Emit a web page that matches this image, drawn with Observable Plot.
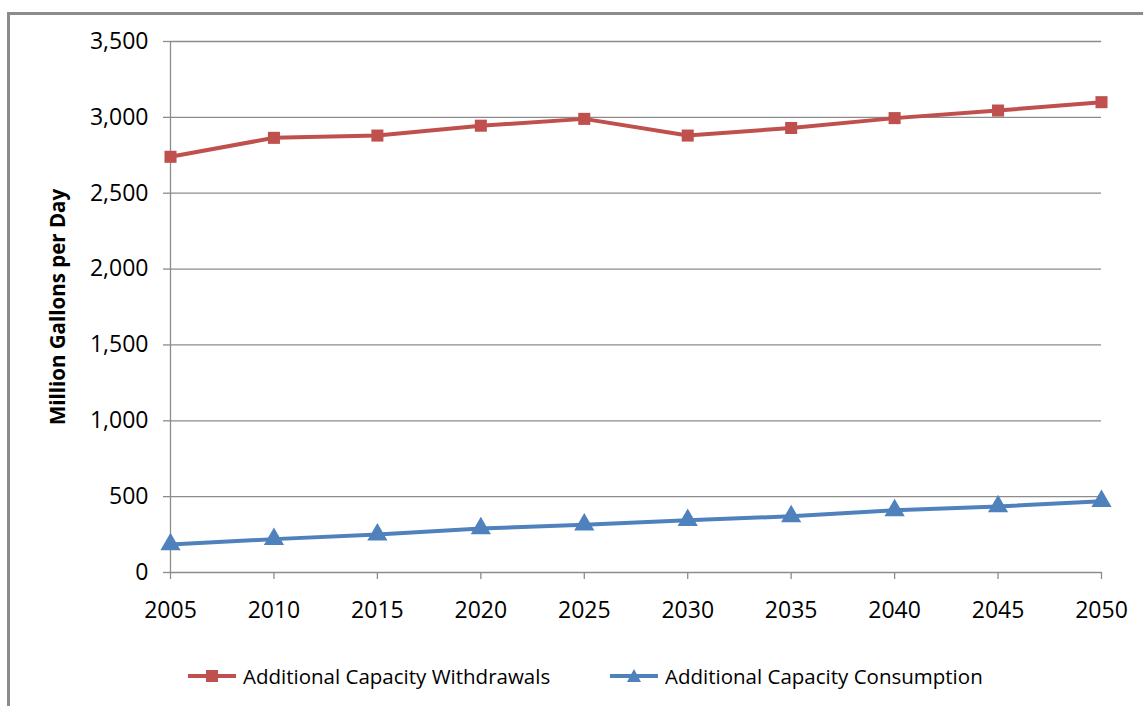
<!DOCTYPE html>
<html>
<head>
<meta charset="utf-8">
<script src="https://cdn.jsdelivr.net/npm/d3@7"></script>
<script src="https://cdn.jsdelivr.net/npm/@observablehq/plot@0.6"></script>
<style>
  html, body { margin: 0; padding: 0; background: #fff; }
  body { width: 1143px; height: 706px; position: relative; overflow: hidden; font-family: "Open Sans", sans-serif; }
  #frame { position: absolute; left: 7px; top: 12px; width: 1200px; height: 800px; border-top: 3px solid #8c8c8c; border-left: 3px solid #8c8c8c; box-sizing: border-box; }
  #chart { position: absolute; left: 0; top: 0; }
  #legend { position: absolute; left: 0; top: 661px; width: 1143px; height: 30px; }
  .item { position: absolute; top: 0; display: flex; align-items: center; font-size: 20.5px; color: #000; height: 30px; }
  .item svg { margin-right: 5px; }
</style>
</head>
<body>
<div id="frame"></div>
<div id="chart"></div>
<div id="legend"></div>
<script>
const years = [2005, 2010, 2015, 2020, 2025, 2030, 2035, 2040, 2045, 2050];
const withdrawals = [2740, 2865, 2880, 2945, 2990, 2880, 2930, 2995, 3045, 3100];
const consumption = [185, 220, 250, 290, 315, 345, 370, 410, 435, 470];
const yTicks = [0, 500, 1000, 1500, 2000, 2500, 3000, 3500];
const seriesNames = ["Additional Capacity Withdrawals", "Additional Capacity Consumption"];
const yLabel = "Million Gallons per Day";

const red = "#C0504D";
const blue = "#4F81BD";
const gray = "#8c8c8c";

const wData = years.map((y, i) => ({year: y, value: withdrawals[i]}));
const cData = years.map((y, i) => ({year: y, value: consumption[i]}));

const chart = Plot.plot({
  width: 1143,
  height: 640,
  marginLeft: 170,
  marginRight: 42,
  marginTop: 41,
  marginBottom: 68,
  style: {fontFamily: "'Open Sans', sans-serif", fontSize: "23px", color: "#000", background: "transparent", overflow: "visible"},
  x: {type: "linear", domain: [2005, 2050]},
  y: {domain: [0, 3500]},
  marks: [
    Plot.gridY(yTicks, {stroke: gray, strokeOpacity: 1, strokeWidth: 1.3}),
    Plot.ruleX([2005], {y1: 0, y2: 3500, stroke: gray, strokeWidth: 1.3}),
    Plot.axisY(yTicks, {tickSize: 7, tickPadding: 15, stroke: gray, tickFormat: d3.format(","), label: null, strokeWidth: 1.3}),
    Plot.axisX(years, {tickSize: 7, tickPadding: 22, stroke: gray, tickFormat: d => String(d), label: null, strokeWidth: 1.3}),
    Plot.text([yLabel], {frameAnchor: "left", textAnchor: "middle", rotate: -90, dx: -112, fontSize: 20.5, fontWeight: "bold", fill: "#000"}),
    Plot.line(wData, {x: "year", y: "value", stroke: red, strokeWidth: 4}),
    Plot.dot(wData, {x: "year", y: "value", symbol: "square", r: 6.8, fill: red, stroke: "none"}),
    Plot.line(cData, {x: "year", y: "value", stroke: blue, strokeWidth: 4}),
    Plot.dot(cData, {x: "year", y: "value", symbol: "triangle", r: 7.5, fill: blue, stroke: "none"})
  ]
});
document.getElementById("chart").appendChild(chart);

// legend
const legend = document.getElementById("legend");
const items = [
  {name: seriesNames[0], color: red, left: 186, shape: "square"},
  {name: seriesNames[1], color: blue, left: 608, shape: "triangle"}
];
for (const it of items) {
  const div = document.createElement("div");
  div.className = "item";
  div.style.left = it.left + "px";
  const marker = it.shape === "square"
    ? `<rect x="20" y="9" width="12" height="12" fill="${it.color}"/>`
    : `<path d="M26,8 L33,21 L19,21 Z" fill="${it.color}"/>`;
  div.innerHTML = `<svg width="52" height="30"><line x1="2" x2="50" y1="15" y2="15" stroke="${it.color}" stroke-width="4"/>${marker}</svg><span>${it.name}</span>`;
  legend.appendChild(div);
}
</script>
</body>
</html>
